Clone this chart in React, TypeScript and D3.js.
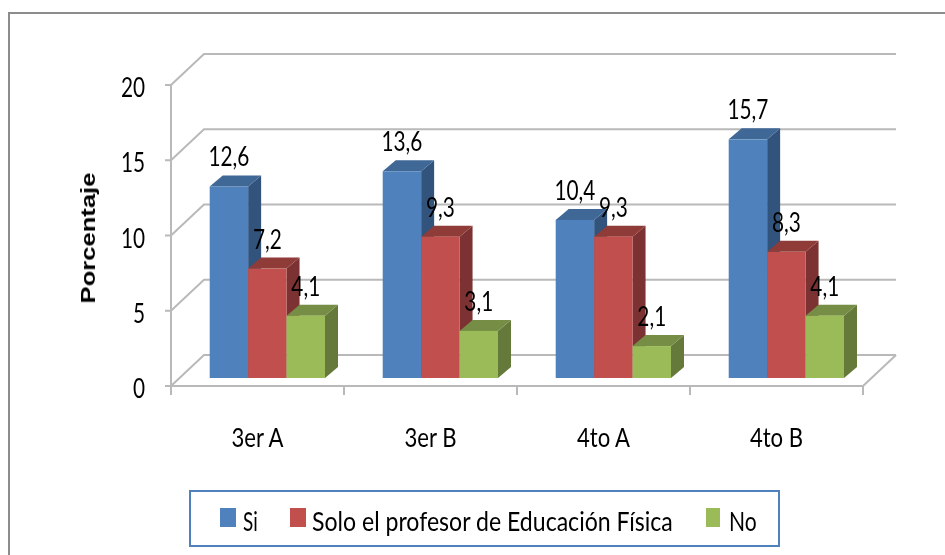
import React from "react";
import * as d3 from "d3";

const categories = ["3er A", "3er B", "4to A", "4to B"];
const seriesNames = ["Si", "Solo el profesor de Educación Física", "No"];
const si = [12.6, 13.6, 10.4, 15.7];
const solo = [7.2, 9.3, 9.3, 8.3];
const no = [4.1, 3.1, 2.1, 4.1];
const yTicks = [0, 5, 10, 15, 20];
const seriesValues = [si, solo, no];
const fronts = ["#4f81bd", "#c0504d", "#9bbb59"];
const tops = ["#3f6797", "#8f3b39", "#748d44"];
const sides = ["#32537c", "#7c3230", "#65793a"];

const W = 945, H = 555;
const axisLeft = 171, axisRight = 863;
const depthX = 33, depthY = 31;
const barDX = 13, barDY = 11;
const FONT = "Lato, Carlito, sans-serif";
const GRID = "#b9b9b9";

const y = d3.scaleLinear().domain([0, 20]).range([386, 85]);
const yBar = d3.scaleLinear().domain([0, 20]).range([378, 74]);
const x0 = d3.scaleBand<string>().domain(categories).range([axisLeft, axisRight]);
const x1 = d3.scaleBand<string>().domain(seriesNames).range([38.7, 154]);
const fmt = (v: number) => String(v).replace(".", ",");

function T({ x, y, children, anchor = "middle", sx = 0.77, size = 27 }: any) {
  return (
    <text transform={`translate(${x},${y}) scale(${sx},1)`} textAnchor={anchor} fontFamily={FONT} fontSize={size} fill="#000">
      {children}
    </text>
  );
}

const legendItems = [
  { sw: 220, w: 16, tx: 243, sx: 0.7 },
  { sw: 290, w: 16, tx: 312, sx: 0.855 },
  { sw: 706, w: 14, tx: 729, sx: 0.78 },
];

export default function App() {
  const xTicks = [...categories.map((c) => x0(c)!), axisRight];
  return (
    <svg width={W} height={H} style={{ position: "absolute", left: 0, top: 0, background: "#fff" }}>
      <defs>
        <filter id="soft" x="-2%" y="-2%" width="104%" height="104%">
          <feGaussianBlur stdDeviation="0.55" />
        </filter>
      </defs>
      <path d={`M9,${H}V13H${W}`} fill="none" stroke="#8c8c8c" strokeWidth={2} />
      <g filter="url(#soft)">
        <g stroke={GRID} strokeWidth={2} fill="none">
          {yTicks.map((t) => (
            <g key={t}>
              <line x1={axisLeft - 6} x2={axisLeft} y1={y(t)} y2={y(t)} />
              <path d={`M${axisLeft},${y(t)}L${axisLeft + depthX},${y(t) - depthY}H${axisRight + depthX}`} />
            </g>
          ))}
          <line x1={axisLeft} x2={axisLeft} y1={y(20)} y2={y(0)} />
          <line x1={axisLeft} x2={axisRight} y1={y(0)} y2={y(0)} />
          <line x1={axisRight} x2={axisRight + depthX} y1={y(0)} y2={y(0) - depthY} />
          {xTicks.map((t) => (
            <line key={t} x1={t} x2={t} y1={y(0)} y2={y(0) + 9} />
          ))}
        </g>
        {categories.map((c, i) => (
          <g key={c}>
            {seriesNames.map((s, k) => {
              const v = seriesValues[k][i];
              const xa = x0(c)! + x1(s)!;
              const b = x1.bandwidth();
              const yt = yBar(v);
              const yb = yBar(0);
              return (
                <g key={s}>
                  <path d={`M${xa + b},${yt}l${barDX},${-barDY}V${yb - barDY}l${-barDX},${barDY}Z`} fill={sides[k]} />
                  <path d={`M${xa},${yt}l${barDX},${-barDY}h${b}l${-barDX},${barDY}Z`} fill={tops[k]} />
                  <rect x={xa} y={yt} width={b} height={yb - yt} fill={fronts[k]} />
                </g>
              );
            })}
          </g>
        ))}
        {categories.map((c, i) =>
          seriesNames.map((s, k) => {
            const v = seriesValues[k][i];
            return (
              <T key={s} x={x0(c)! + x1(s)! + x1.bandwidth() / 2} y={yBar(v) - 20}>
                {fmt(v)}
              </T>
            );
          })
        )}
        {yTicks.map((t) => (
          <T key={t} x={145} y={y(t) + 12} anchor="end">
            {t}
          </T>
        ))}
        {categories.map((c) => (
          <T key={c} x={x0(c)! + x0.bandwidth() / 2} y={447} sx={0.82}>
            {c}
          </T>
        ))}
        <text
          transform="translate(95,238) rotate(-90) scale(1.28,1)"
          textAnchor="middle"
          fontFamily="'Liberation Sans', Arial, sans-serif"
          fontWeight={700}
          fontSize={20}
          fill="#000"
        >
          Porcentaje
        </text>
        <rect x={190} y={491} width={589} height={55} fill="#fff" stroke="#4f81bd" strokeWidth={2} />
        {seriesNames.map((s, k) => (
          <g key={s}>
            <rect x={legendItems[k].sw} y={508} width={legendItems[k].w} height={19} fill={fronts[k]} />
            <T x={legendItems[k].tx} y={531} anchor="start" sx={legendItems[k].sx}>
              {s}
            </T>
          </g>
        ))}
      </g>
    </svg>
  );
}
